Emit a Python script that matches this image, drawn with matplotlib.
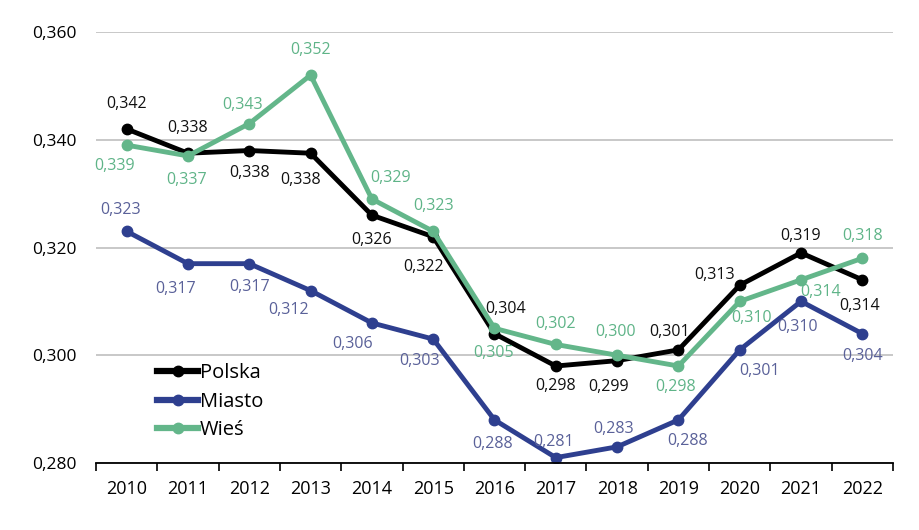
import matplotlib
matplotlib.use("Agg")
import matplotlib.pyplot as plt
import numpy as np

years = ["2010", "2011", "2012", "2013", "2014", "2015", "2016", "2017", "2018", "2019", "2020", "2021", "2022"]
polska = [0.342, 0.3375, 0.338, 0.3375, 0.326, 0.322, 0.304, 0.298, 0.299, 0.301, 0.313, 0.319, 0.314]
miasto = [0.323, 0.317, 0.317, 0.312, 0.306, 0.303, 0.288, 0.281, 0.283, 0.288, 0.301, 0.310, 0.304]
wies = [0.339, 0.337, 0.343, 0.352, 0.329, 0.323, 0.305, 0.302, 0.300, 0.298, 0.310, 0.314, 0.318]
polska_lbl = ["0,342", "0,338", "0,338", "0,338", "0,326", "0,322", "0,304", "0,298", "0,299", "0,301", "0,313", "0,319", "0,314"]
miasto_lbl = ["0,323", "0,317", "0,317", "0,312", "0,306", "0,303", "0,288", "0,281", "0,283", "0,288", "0,301", "0,310", "0,304"]
wies_lbl = ["0,339", "0,337", "0,343", "0,352", "0,329", "0,323", "0,305", "0,302", "0,300", "0,298", "0,310", "0,314", "0,318"]
yticks = [0.280, 0.300, 0.320, 0.340, 0.360]
ytick_lbl = ["0,280", "0,300", "0,320", "0,340", "0,360"]

# label offsets in pixels (dx, dy), dy positive = up
off_p = [(0, 25), (0, 25), (0, -22), (-10, -27), (0, -25), (-10, -30), (11, 25), (0, -20), (-9, -26), (-9, 18), (-25, 10), (0, 17), (-3, -26)]
off_m = [(-6, 21), (-12, -25), (0, -23), (-22, -19), (-19, -21), (-14, -22), (-2, -24), (-2, 16), (-4, 18), (9, -21), (20, -21), (-3, -26), (0, -22)]
off_w = [(-12, -21), (-1, -24), (-7, 19), (0, 25), (19, 21), (0, 25), (-1, -25), (0, 20), (-2, 23), (-3, -21), (12, -17), (20, -12), (0, 22)]

c_p, c_m, c_w = "#000000", "#2e3f8f", "#63b68a"
t_p, t_m, t_w = "#111111", "#5a6199", "#5fb488"

plt.rcParams["font.family"] = ["Open Sans", "DejaVu Sans"]

fig = plt.figure(figsize=(9.2, 5.3), dpi=100)
ax = fig.add_axes([96 / 920, 1 - 463 / 530, 797 / 920, (463 - 32) / 530])

x = np.arange(len(years))
for vals, lbls, offs, col, tcol, name in [
    (polska, polska_lbl, off_p, c_p, t_p, "Polska"),
    (miasto, miasto_lbl, off_m, c_m, t_m, "Miasto"),
    (wies, wies_lbl, off_w, c_w, t_w, "Wieś"),
]:
    ax.plot(x, vals, color=col, lw=3.5, marker="o", ms=7.5, label=name, zorder=3)
    for xi, v, l, (dx, dy) in zip(x, vals, lbls, offs):
        ax.annotate(l, (xi, v), xytext=(dx, dy), textcoords="offset pixels",
                    ha="center", va="center", fontsize=11.5, color=tcol, zorder=4)

ax.set_xlim(-0.5, len(years) - 0.5)
ax.set_ylim(0.280, 0.360)
ax.set_yticks(yticks)
ax.set_yticklabels(ytick_lbl, fontsize=12.5)
ax.set_xticks(x)
ax.set_xticklabels(years, fontsize=13)
ax.set_xticks(np.arange(-0.5, len(years), 1), minor=True)
ax.tick_params(axis="x", which="major", length=0, pad=12)
ax.tick_params(axis="x", which="minor", length=6, width=1.2, direction="out", color="#000000")
ax.tick_params(axis="y", length=0, pad=14)
ax.grid(axis="y", color="#bfbfbf", lw=1.2, zorder=0)
ax.set_axisbelow(True)
for s in ["left", "right", "top"]:
    ax.spines[s].set_visible(False)
ax.spines["bottom"].set_linewidth(1.3)
ax.spines["bottom"].set_color("#000000")
ax.spines["bottom"].set_zorder(5)

leg = ax.legend(loc="upper left", bbox_to_anchor=(0.067, 0.25), frameon=False, fontsize=14.5,
                handlelength=2.0, handletextpad=0.1, labelspacing=0.42, borderaxespad=0)
for h in leg.legend_handles:
    h.set_linewidth(4.5)

fig.savefig("out.png", dpi=100, facecolor="white")
